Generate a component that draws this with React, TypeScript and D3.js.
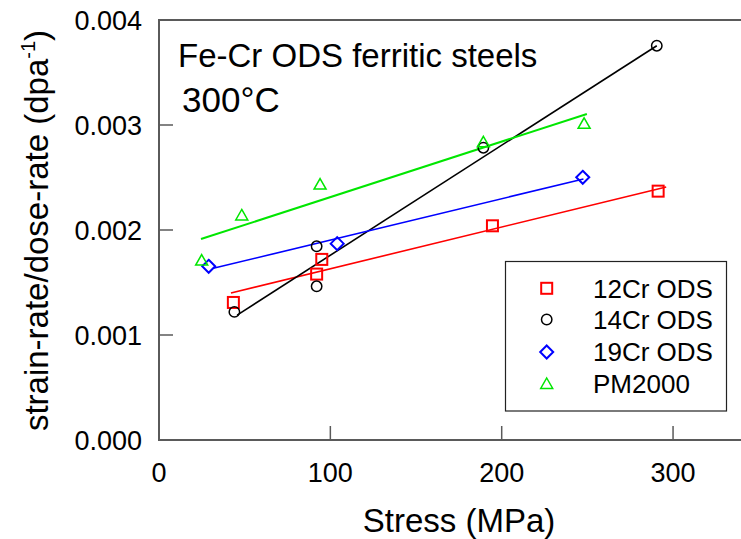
import React from "react";
import * as d3 from "d3";

// ---- data ----
const stress12 = [43.4, 92, 95, 194.6, 291.3];
const rate12 = [0.00131, 0.00158, 0.00172, 0.00204, 0.00237];
const fitX12 = [42, 296];
const fitY12 = [0.0014, 0.00241];

const stress14 = [44, 92, 92, 189.3, 290.5];
const rate14 = [0.00122, 0.001464, 0.001845, 0.002784, 0.003755];
const fitX14 = [45.6, 290.5];
const fitY14 = [0.00119, 0.003755];

const stress19 = [29, 104, 247.3];
const rate19 = [0.001654, 0.00187, 0.002502];
const fitX19 = [31.7, 247.7];
const fitY19 = [0.001635, 0.002486];

const stressPM = [24.9, 48.3, 94, 189.3, 248.1];
const ratePM = [0.001714, 0.002143, 0.002438, 0.00284, 0.003016];
const fitXPM = [24.5, 249.7];
const fitYPM = [0.001914, 0.003105];

const xTicks = [0, 100, 200, 300];
const yTicks = [0, 0.001, 0.002, 0.003, 0.004];
const seriesNames = ["12Cr ODS", "14Cr ODS", "19Cr ODS", "PM2000"];

const FONT = "Arial, 'Liberation Sans', Helvetica, sans-serif";

type Shape = "square" | "circle" | "diamond" | "triangle";

function Marker({ x, y, shape, color }: { x: number; y: number; shape: Shape; color: string }) {
  if (shape === "square")
    return <rect x={x - 5.5} y={y - 5.5} width={11} height={11} fill="none" stroke={color} strokeWidth={2} />;
  if (shape === "circle")
    return <circle cx={x} cy={y} r={5.2} fill="none" stroke={color} strokeWidth={1.5} />;
  if (shape === "diamond")
    return (
      <path
        d={`M${x},${y - 6.5}L${x + 6.5},${y}L${x},${y + 6.5}L${x - 6.5},${y}Z`}
        fill="none"
        stroke={color}
        strokeWidth={2}
      />
    );
  return (
    <path
      d={`M${x},${y - 5.5}L${x + 6},${y + 5}L${x - 6},${y + 5}Z`}
      fill="none"
      stroke={color}
      strokeWidth={1.5}
    />
  );
}

export default function App() {
  const W = 741;
  const H = 539;
  const x = d3.scaleLinear().domain([0, 350]).range([159, 159 + 350 * 1.7135]);
  const y = d3.scaleLinear().domain([0, 0.004]).range([440, 20]);
  const line = d3
    .line<[number, number]>()
    .x((d) => x(d[0]))
    .y((d) => y(d[1]));

  const series = [
    { xs: stress12, ys: rate12, fx: fitX12, fy: fitY12, color: "#ff0000", shape: "square" as Shape, lw: 1.6 },
    { xs: stress14, ys: rate14, fx: fitX14, fy: fitY14, color: "#000000", shape: "circle" as Shape, lw: 1.6 },
    { xs: stress19, ys: rate19, fx: fitX19, fy: fitY19, color: "#0000ff", shape: "diamond" as Shape, lw: 1.6 },
    { xs: stressPM, ys: ratePM, fx: fitXPM, fy: fitYPM, color: "#00e600", shape: "triangle" as Shape, lw: 2 },
  ];

  const axisColor = "#5a5a5a";
  const x0 = x(0);
  const y0 = y(0);
  const yTop = y(0.004);

  const legX = 505.5;
  const legY = 261.5;
  const legW = 221;
  const legH = 149.5;
  const legRows = [288.3, 319.5, 352, 383.5];

  return (
    <svg
      width={W}
      height={H}
      style={{ position: "absolute", left: 0, top: 0, background: "#fff" }}
      fontFamily={FONT}
    >
      <rect x={0} y={0} width={W} height={H} fill="#fff" />

      {/* fit lines */}
      {series.map((s, i) => (
        <path
          key={"l" + i}
          d={line([
            [s.fx[0], s.fy[0]],
            [s.fx[1], s.fy[1]],
          ]) as string}
          fill="none"
          stroke={s.color}
          strokeWidth={s.lw}
        />
      ))}

      {/* markers */}
      {series.map((s, i) =>
        s.xs.map((v, j) => <Marker key={`m${i}-${j}`} x={x(v)} y={y(s.ys[j])} shape={s.shape} color={s.color} />)
      )}

      {/* frame */}
      <line x1={x0} y1={y0} x2={W} y2={y0} stroke={axisColor} strokeWidth={2} />
      <line x1={x0} y1={yTop} x2={W} y2={yTop} stroke={axisColor} strokeWidth={2} />
      <line x1={x0} y1={yTop - 1} x2={x0} y2={y0 + 1} stroke={axisColor} strokeWidth={2} />

      {/* x ticks */}
      {xTicks.map((t) => (
        <g key={"xt" + t}>
          {t !== 0 && <line x1={x(t)} y1={y0} x2={x(t)} y2={y0 - 14} stroke={axisColor} strokeWidth={1.5} />}
          <text x={x(t)} y={481.5} textAnchor="middle" fontSize={27} fill="#000">
            {t}
          </text>
        </g>
      ))}

      {/* y ticks */}
      {yTicks.map((t) => (
        <g key={"yt" + t}>
          {t !== 0 && <line x1={x0} y1={y(t)} x2={x0 + 14} y2={y(t)} stroke={axisColor} strokeWidth={1.5} />}
          <text x={142} y={y(t) + 9.7} textAnchor="end" fontSize={27} fill="#000">
            {d3.format(".3f")(t)}
          </text>
        </g>
      ))}

      {/* axis titles */}
      <text x={459} y={532} textAnchor="middle" fontSize={33} fill="#000">
        Stress (MPa)
      </text>
      <text transform="translate(47.5,230.5) rotate(-90)" textAnchor="middle" fontSize={33} fill="#000">
        strain-rate/dose-rate (dpa
        <tspan fontSize={20} dy={-13}>
          -1
        </tspan>
        <tspan dy={13}>)</tspan>
      </text>

      {/* annotations */}
      <text x={178} y={66.5} fontSize={33} fill="#000">
        Fe-Cr ODS ferritic steels
      </text>
      <text x={182} y={112.3} fontSize={35} fill="#000">
        300°C
      </text>

      {/* legend */}
      <rect x={legX} y={legY} width={legW} height={legH} fill="#fff" stroke="#222" strokeWidth={1.2} />
      {series.map((s, i) => (
        <g key={"lg" + i}>
          <Marker x={546.7} y={legRows[i]} shape={s.shape} color={s.color} />
          <text x={593} y={legRows[i] + 9.3} fontSize={26} fill="#000">
            {seriesNames[i]}
          </text>
        </g>
      ))}
    </svg>
  );
}
